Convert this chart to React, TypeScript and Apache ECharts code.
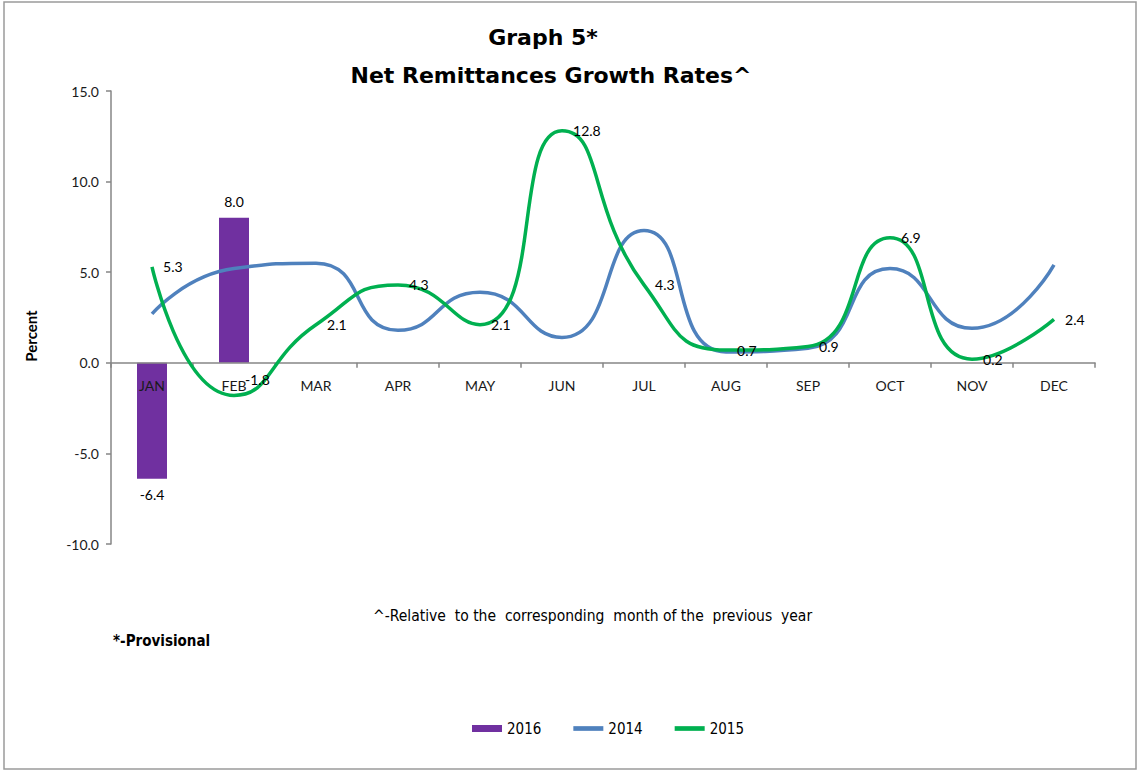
import React, { useEffect, useRef } from "react";
import * as echarts from "echarts";

const months = ["JAN", "FEB", "MAR", "APR", "MAY", "JUN", "JUL", "AUG", "SEP", "OCT", "NOV", "DEC"];
const values2016: (number | null)[] = [-6.4, 8.0, null, null, null, null, null, null, null, null, null, null];
const values2014 = [2.7, 5.2, 5.5, 1.8, 3.9, 1.4, 7.3, 0.6, 0.8, 5.2, 1.9, 5.4];
const values2015 = [5.3, -1.8, 2.1, 4.3, 2.1, 12.8, 4.3, 0.7, 0.9, 6.9, 0.2, 2.4];
const yTicks = { min: -10, max: 15, interval: 5 };

const FONT = "Lato, 'Open Sans', sans-serif";
const NARROW = "'Liberation Sans Narrow', 'DejaVu Sans Condensed', 'Liberation Sans', sans-serif";
const LINE_ICON = "path://M0,0 L32,0 L32,5 L0,5 Z";

const GRID = { left: 111, right: 43, top: 91, bottom: 227 };
const CHART_H = 771;

export default function App() {
  const ref = useRef<HTMLDivElement>(null);
  useEffect(() => {
    if (!ref.current) return;
    const chart = echarts.init(ref.current, undefined, { renderer: "svg" });
    const barData = values2016.map((v) =>
      v === null
        ? "-"
        : { value: v, label: { position: v < 0 ? "bottom" : "top" } }
    );
    const greenData = values2015.map((v, i) =>
      i === 1 ? { value: v, label: { offset: [0, -16] } } : v
    );
    // Category axis drawn through value 0: shift it up from the grid bottom by the zero's distance.
    const plotH = CHART_H - GRID.top - GRID.bottom;
    const zeroOffset = -plotH * (0 - yTicks.min) / (yTicks.max - yTicks.min);
    chart.setOption({
      animation: false,
      backgroundColor: "#ffffff",
      textStyle: { fontFamily: FONT },
      grid: { ...GRID, containLabel: false },
      legend: {
        left: 467,
        bottom: 30,
        itemWidth: 30,
        itemHeight: 7,
        itemGap: 32,
        data: [
          { name: "2016", icon: "rect" },
          { name: "2014", icon: LINE_ICON },
          { name: "2015", icon: LINE_ICON },
        ],
        textStyle: { fontFamily: NARROW, fontSize: 15, color: "#000" },
      },
      xAxis: {
        type: "category",
        data: months,
        boundaryGap: true,
        position: "bottom",
        offset: zeroOffset,
        z: 3,
        axisLine: { onZero: false, lineStyle: { color: "#868686", width: 1.5 } },
        axisTick: { show: true, length: 5, lineStyle: { color: "#868686", width: 1.5 } },
        axisLabel: { margin: 16, fontSize: 14, color: "#1a1a1a", fontFamily: FONT },
        splitLine: { show: false },
      },
      yAxis: {
        type: "value",
        min: yTicks.min,
        max: yTicks.max,
        interval: yTicks.interval,
        axisLine: { show: true, onZero: false, lineStyle: { color: "#868686", width: 1.5 } },
        axisTick: { show: true, length: 5, lineStyle: { color: "#868686", width: 1.5 } },
        axisLabel: {
          margin: 12,
          fontSize: 14,
          color: "#1a1a1a",
          fontFamily: FONT,
          formatter: (v: number) => v.toFixed(1),
        },
        splitLine: { show: false },
      },
      series: [
        {
          name: "2016",
          type: "bar",
          data: barData,
          barWidth: 30,
          itemStyle: { color: "#7030A0" },
          label: {
            show: true,
            distance: 9,
            fontSize: 14,
            color: "#000",
            fontFamily: FONT,
            formatter: (p: any) => Number(p.value).toFixed(1),
          },
        },
        {
          name: "2014",
          type: "line",
          data: values2014,
          smooth: 0.55,
          showSymbol: false,
          symbol: "none",
          lineStyle: { color: "#4F81BD", width: 3.5 },
          itemStyle: { color: "#4F81BD" },
        },
        {
          name: "2015",
          type: "line",
          data: greenData,
          smooth: 0.55,
          showSymbol: true,
          symbol: "circle",
          symbolSize: 0.1,
          lineStyle: { color: "#00B050", width: 3.5 },
          itemStyle: { color: "#00B050" },
          label: {
            show: true,
            position: "right",
            distance: 11,
            fontSize: 14,
            color: "#000",
            fontFamily: FONT,
            formatter: (p: any) => Number(p.value).toFixed(1),
          },
        },
      ],
      graphic: [
        {
          type: "rect",
          shape: { x: 4, y: 2, width: 1132, height: 767 },
          style: { fill: "none", stroke: "#9a9a9a", lineWidth: 1.5 },
          silent: true,
        },
        {
          type: "text",
          x: 543,
          y: 37,
          style: {
            text: "Graph 5*",
            fill: "#000",
            fontSize: 22,
            fontWeight: "bold",
            fontFamily: "'DejaVu Sans', sans-serif",
            textAlign: "center",
            textVerticalAlign: "middle",
          },
        },
        {
          type: "text",
          x: 551,
          y: 75,
          style: {
            text: "Net Remittances Growth Rates^",
            fill: "#000",
            fontSize: 22,
            fontWeight: "bold",
            fontFamily: "'DejaVu Sans', sans-serif",
            textAlign: "center",
            textVerticalAlign: "middle",
          },
        },
        {
          type: "text",
          x: 31,
          y: 336,
          rotation: Math.PI / 2,
          style: {
            text: "Percent",
            fill: "#000",
            fontSize: 15,
            fontWeight: "bold",
            fontFamily: FONT,
            textAlign: "center",
            textVerticalAlign: "middle",
          },
        },
        {
          type: "text",
          x: 373,
          y: 616,
          style: {
            text: "^-Relative  to the  corresponding  month of the  previous  year",
            fill: "#000",
            fontSize: 15.5,
            fontFamily: NARROW,
            textAlign: "left",
            textVerticalAlign: "middle",
          },
        },
        {
          type: "text",
          x: 113,
          y: 641,
          style: {
            text: "*-Provisional",
            fill: "#000",
            fontSize: 15,
            fontWeight: "bold",
            fontFamily: NARROW,
            textAlign: "left",
            textVerticalAlign: "middle",
          },
        },
      ],
    });
    return () => chart.dispose();
  }, []);
  return (
    <div
      ref={ref}
      style={{ position: "absolute", left: 0, top: 0, width: 1138, height: CHART_H }}
    />
  );
}
